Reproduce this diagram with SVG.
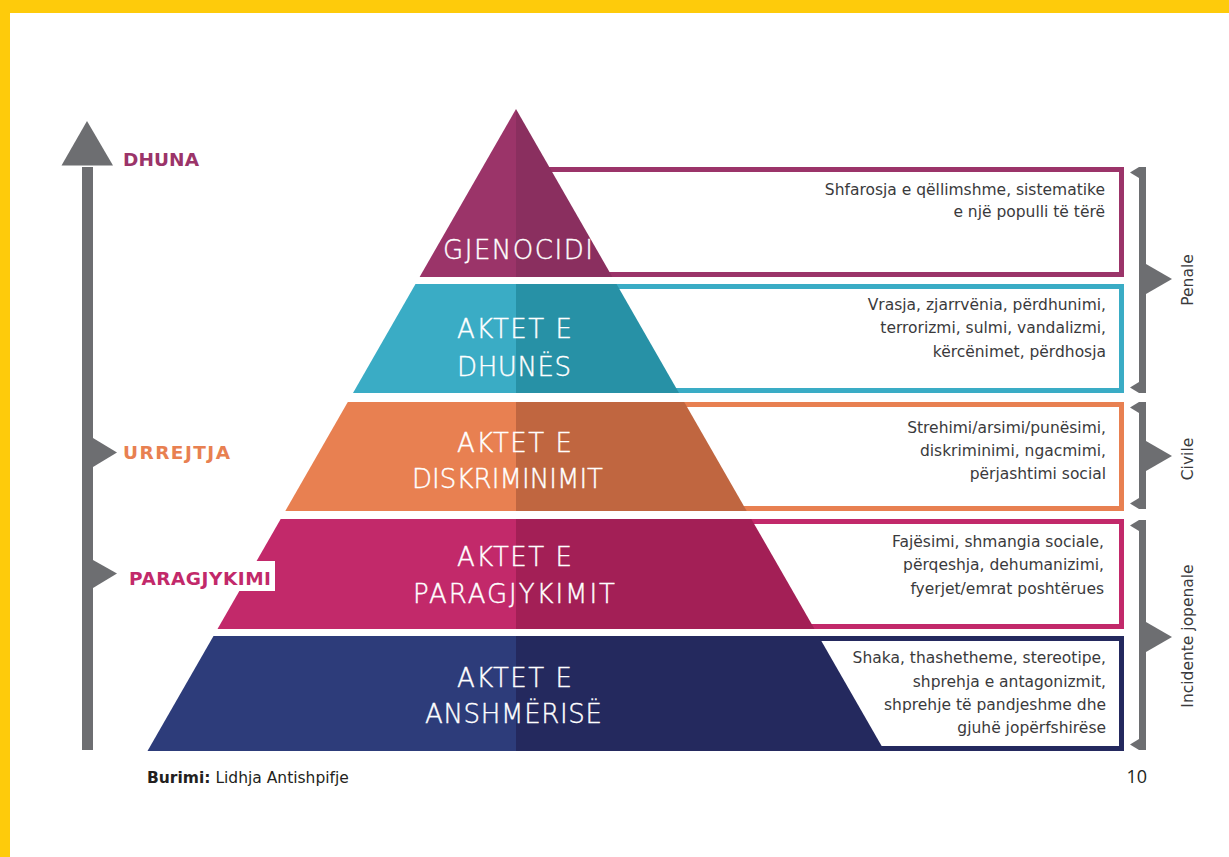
<svg xmlns="http://www.w3.org/2000/svg" width="1229" height="857" viewBox="0 0 1229 857">
<style>
.gray{fill:#6d6e71}
.box{fill:#fff;stroke-width:5}
.desc{font-family:"DejaVu Sans",sans-serif;font-size:15.5px;fill:#3a3a3c;text-anchor:end}
.lvl{font-family:"DejaVu Sans",sans-serif;font-weight:200;font-size:26px;fill:#fff;stroke:#fff;stroke-width:0.4px;text-anchor:middle}
.side{font-family:"DejaVu Sans",sans-serif;font-weight:700;font-size:18.5px}
.br{font-family:"DejaVu Sans",sans-serif;font-size:15.5px;fill:#3a3a3c;text-anchor:middle}
</style>
<rect x="0" y="0" width="1229" height="857" fill="#fff"/>
<rect x="0" y="0" width="1229" height="13" fill="#fecb0b"/>
<rect x="0" y="0" width="10" height="857" fill="#fecb0b"/>

<g id="axis">
<polygon class="gray" points="87,121 113,165.5 61.5,165.5"/>
<rect class="gray" x="82" y="167" width="11" height="583"/>
<polygon class="gray" points="93,438 117,452.5 93,467"/>
<polygon class="gray" points="93,560 117,573.5 93,588"/>
</g>

<g id="box-gjenocidi"><rect class="box" x="500" y="169.5" width="621.5" height="105" stroke="#9b3469"/>
<text class="desc" x="1105" y="195">Shfarosja e qëllimshme, sistematike</text>
<text class="desc" x="1105" y="217">e një populli të tërë</text></g>
<g id="box-dhunes"><rect class="box" x="500" y="286.5" width="621.5" height="104" stroke="#3aacc5"/>
<text class="desc" x="1106" y="310">Vrasja, zjarrvënia, përdhunimi,</text>
<text class="desc" x="1106" y="333">terrorizmi, sulmi, vandalizmi,</text>
<text class="desc" x="1106" y="357">kërcënimet, përdhosja</text></g>
<g id="box-diskriminimit"><rect class="box" x="500" y="404.5" width="621.5" height="104" stroke="#e88051"/>
<text class="desc" x="1106" y="433">Strehimi/arsimi/punësimi,</text>
<text class="desc" x="1106" y="456">diskriminimi, ngacmimi,</text>
<text class="desc" x="1106" y="479">përjashtimi social</text></g>
<g id="box-paragjykimit"><rect class="box" x="500" y="521.5" width="621.5" height="105" stroke="#c2296a"/>
<text class="desc" x="1104" y="547">Fajësimi, shmangia sociale,</text>
<text class="desc" x="1104" y="570">përqeshja, dehumanizimi,</text>
<text class="desc" x="1104" y="594">fyerjet/emrat poshtërues</text></g>
<g id="box-anshmerise"><rect class="box" x="500" y="638.5" width="621.5" height="110" stroke="#24295e"/>
<text class="desc" x="1106" y="663">Shaka, thashetheme, stereotipe,</text>
<text class="desc" x="1106" y="687">shprehja e antagonizmit,</text>
<text class="desc" x="1106" y="710">shprehje të pandjeshme dhe</text>
<text class="desc" x="1106" y="733">gjuhë jopërfshirëse</text></g>

<g id="lvl-gjenocidi">
<polygon points="516,109 516,277 419.6,277" fill="#9b3469"/>
<polygon points="516,109 612.4,277 516,277" fill="#8a2f5f"/>
<text class="lvl" x="518" y="259" textLength="150" lengthAdjust="spacing">GJENOCIDI</text>
</g>
<g id="lvl-dhunes">
<polygon points="415.5,284 516,284 516,393 353,393" fill="#3aacc5"/>
<polygon points="516,284 616.5,284 679,393 516,393" fill="#2791a6"/>
<text class="lvl" x="514.5" y="338" textLength="115" lengthAdjust="spacing">AKTET E</text>
<text class="lvl" x="514" y="376" textLength="114" lengthAdjust="spacing">DHUNËS</text>
</g>
<g id="lvl-diskriminimit">
<polygon points="347.8,402 516,402 516,511 285.3,511" fill="#e88051"/>
<polygon points="516,402 684.2,402 746.7,511 516,511" fill="#c06640"/>
<text class="lvl" x="514.5" y="452" textLength="115" lengthAdjust="spacing">AKTET E</text>
<text class="lvl" x="507.5" y="488" textLength="191" lengthAdjust="spacing">DISKRIMINIMIT</text>
</g>
<g id="lvl-paragjykimit">
<polygon points="280.7,519 516,519 516,629 217.5,629" fill="#c2296a"/>
<polygon points="516,519 751.3,519 814.5,629 516,629" fill="#a31f56"/>
<text class="lvl" x="514.5" y="566" textLength="115" lengthAdjust="spacing">AKTET E</text>
<text class="lvl" x="514" y="603" textLength="202" lengthAdjust="spacing">PARAGJYKIMIT</text>
</g>
<g id="lvl-anshmerise">
<polygon points="213.5,636 516,636 516,751 147.5,751" fill="#2d3c7a"/>
<polygon points="516,636 818.5,636 884.5,751 516,751" fill="#24295e"/>
<text class="lvl" x="514.5" y="687" textLength="115" lengthAdjust="spacing">AKTET E</text>
<text class="lvl" x="513.5" y="723" textLength="177" lengthAdjust="spacing">ANSHMËRISË</text>
</g>

<g id="side-labels">
<text class="side" x="123" y="166" fill="#9b3469" textLength="76" lengthAdjust="spacing">DHUNA</text>
<text class="side" x="123" y="459" fill="#e88051" textLength="107" lengthAdjust="spacing">URREJTJA</text>
<rect x="127" y="561" width="148" height="30" fill="#fff"/>
<text class="side" x="129" y="585" fill="#c2296a" textLength="142" lengthAdjust="spacing">PARAGJYKIMI</text>
</g>

<g id="bracket-penale">
<rect class="gray" x="1139" y="167" width="7" height="226"/>
<polygon class="gray" points="1139,167 1130,172.5 1139,178"/>
<polygon class="gray" points="1139,382 1130,387.5 1139,393"/>
<polygon class="gray" points="1146,264 1172,279 1146,294"/>
<text class="br" transform="translate(1193,280) rotate(-90)">Penale</text>
</g>
<g id="bracket-civile">
<rect class="gray" x="1139" y="402" width="7" height="107"/>
<polygon class="gray" points="1139,402 1130,407.5 1139,413"/>
<polygon class="gray" points="1139,498 1130,503.5 1139,509"/>
<polygon class="gray" points="1146,441 1172,456 1146,471"/>
<text class="br" transform="translate(1193,459) rotate(-90)">Civile</text>
</g>
<g id="bracket-jopenale">
<rect class="gray" x="1139" y="520" width="7" height="230"/>
<polygon class="gray" points="1139,520 1130,525.5 1139,531"/>
<polygon class="gray" points="1139,739 1130,744.5 1139,750"/>
<polygon class="gray" points="1146,622 1172,637 1146,652"/>
<text class="br" transform="translate(1193,636) rotate(-90)">Incidente jopenale</text>
</g>

<g id="footer">
<text x="147" y="783" font-family="'DejaVu Sans',sans-serif" font-size="15.5" fill="#231f20"><tspan font-weight="700">Burimi:</tspan> Lidhja Antishpifje</text>
<text x="1147" y="783" font-family="'Open Sans','DejaVu Sans',sans-serif" font-size="18" fill="#231f20" text-anchor="end">10</text>
</g>
</svg>
